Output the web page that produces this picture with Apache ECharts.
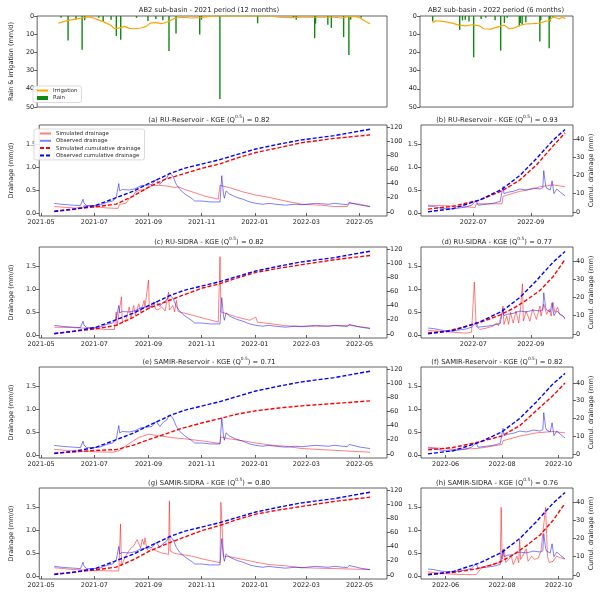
<!DOCTYPE html>
<html>
<head>
<meta charset="utf-8">
<script src="https://cdn.jsdelivr.net/npm/echarts@6/dist/echarts.min.js"></script>
<title>AB2 drainage</title>
<style>html,body{margin:0;padding:0;background:#fff;}</style>
</head>
<body>
<div id="main" style="width:600px;height:595px;"></div>
<script type="text/javascript">
// ---- values (date, value) ----

// rain (mm/d) and irrigation (mm/d)
var rainL = [['2021-05-26',1],['2021-06-03',13.5],['2021-06-12',2],['2021-06-19',18.6],['2021-06-22',2.4],['2021-07-08',1],['2021-07-13',3],['2021-07-22',2],['2021-07-28',10.9],['2021-08-02',13.1],['2021-08-20',1],['2021-09-02',2.8],['2021-09-11',1.7],['2021-09-19',2.4],['2021-09-26',19.2],['2021-10-04',9.6],['2021-10-31',10.1],['2021-11-02',2],['2021-11-23',45.6],['2022-01-05',4],['2022-02-15',1],['2022-02-18',2],['2022-03-11',12.2],['2022-03-12',4.2],['2022-03-26',4.8],['2022-03-30',6.5],['2022-04-13',11.6],['2022-04-19',21.4],['2022-04-21',2],['2022-05-03',1]];
var irrL = [['2021-05-23',3.9],['2021-05-29',3.1],['2021-06-04',2.4],['2021-06-11',1.7],['2021-06-19',1.1],['2021-06-26',0.5],['2021-07-02',1.1],['2021-07-07',2],['2021-07-15',3.5],['2021-07-22',5.2],['2021-07-26',7],['2021-08-01',6.5],['2021-08-06',5.7],['2021-08-12',6.8],['2021-08-17',7],['2021-08-25',6.6],['2021-08-31',5.7],['2021-09-05',3.9],['2021-09-11',3.5],['2021-09-16',4.2],['2021-09-20',3.9],['2021-09-24',3.3],['2021-09-28',2.4],['2021-10-03',1.1],['2021-10-13',0.7],['2021-10-20',1.1],['2021-10-31',0.9],['2021-11-11',0.2],['2021-11-20',0],['2022-01-20',0],['2022-01-29',0.7],['2022-02-13',0.9],['2022-02-24',0.7],['2022-04-02',0.7],['2022-04-10',1.1],['2022-04-17',0.5],['2022-04-25',0.2],['2022-05-02',1.1],['2022-05-08',3],['2022-05-13',4.2]];
var rainR = [['2022-05-19',3],['2022-06-17',7.6],['2022-06-20',2.4],['2022-06-23',2],['2022-06-27',3],['2022-07-02',22.7],['2022-07-10',1.7],['2022-07-15',1],['2022-07-25',2.4],['2022-07-31',19],['2022-08-04',3.9],['2022-08-07',1],['2022-08-20',5.7],['2022-08-21',3.9],['2022-08-23',4.8],['2022-08-27',3.5],['2022-09-11',14],['2022-09-12',2.4],['2022-09-21',17.7],['2022-09-22',3],['2022-09-25',1]];
var irrR = [['2022-05-19',3.9],['2022-05-22',2.6],['2022-05-30',3],['2022-06-09',3.9],['2022-06-16',5],['2022-06-23',5.4],['2022-07-01',4.8],['2022-07-08',5.4],['2022-07-13',7],['2022-07-20',7.2],['2022-07-30',5.7],['2022-08-04',5],['2022-08-09',7],['2022-08-15',6.5],['2022-08-20',5.2],['2022-08-27',4.4],['2022-09-03',4.2],['2022-09-11',3.9],['2022-09-16',3],['2022-09-21',2.6],['2022-09-25',0.5],['2022-09-29',1.1],['2022-10-02',1.5],['2022-10-06',0.5],['2022-10-08',1.7]];

// observed drainage (mm/d) and observed cumulative drainage (mm)
var obsL = [['2021-05-16',0.21],['2021-05-24',0.19],['2021-05-31',0.18],['2021-06-07',0.17],['2021-06-15',0.16],['2021-06-18',0.30],['2021-06-19',0.22],['2021-06-22',0.16],['2021-06-30',0.16],['2021-07-07',0.17],['2021-07-15',0.23],['2021-07-22',0.26],['2021-07-26',0.34],['2021-07-29',0.64],['2021-07-30',0.48],['2021-08-02',0.51],['2021-08-10',0.50],['2021-08-17',0.53],['2021-08-23',0.59],['2021-08-28',0.60],['2021-09-05',0.62],['2021-09-10',0.73],['2021-09-14',0.62],['2021-09-18',0.71],['2021-09-22',0.76],['2021-09-25',0.87],['2021-09-29',0.80],['2021-10-03',0.62],['2021-10-07',0.51],['2021-10-13',0.41],['2021-10-21',0.31],['2021-10-24',0.26],['2021-11-01',0.26],['2021-11-11',0.24],['2021-11-22',0.24],['2021-11-24',0.81],['2021-11-26',0.41],['2021-11-27',0.32],['2021-11-29',0.48],['2021-12-03',0.41],['2021-12-11',0.34],['2021-12-18',0.30],['2021-12-26',0.24],['2022-01-02',0.21],['2022-01-10',0.19],['2022-01-17',0.21],['2022-01-25',0.19],['2022-02-05',0.17],['2022-02-16',0.19],['2022-02-24',0.18],['2022-03-11',0.21],['2022-03-26',0.19],['2022-04-02',0.21],['2022-04-17',0.18],['2022-04-19',0.23],['2022-04-21',0.19],['2022-05-02',0.17],['2022-05-13',0.14]];
var cumObsL = [['2021-05-16',0.5],['2021-06-07',3.5],['2021-07-02',9],['2021-07-26',20],['2021-08-14',29],['2021-09-01',40],['2021-09-27',55],['2021-10-13',62],['2021-11-02',68],['2021-11-22',74],['2021-12-11',81],['2022-01-02',89],['2022-01-29',96],['2022-02-24',102],['2022-04-02',108],['2022-05-13',117]];
var obsR = [['2022-05-13',0.15],['2022-05-19',0.14],['2022-05-26',0.11],['2022-06-02',0.09],['2022-06-09',0.09],['2022-06-16',0.11],['2022-06-23',0.13],['2022-06-29',0.17],['2022-07-04',0.27],['2022-07-06',0.17],['2022-07-15',0.19],['2022-07-22',0.21],['2022-07-30',0.25],['2022-08-01',0.28],['2022-08-02',0.58],['2022-08-03',0.42],['2022-08-07',0.45],['2022-08-13',0.47],['2022-08-20',0.52],['2022-08-27',0.50],['2022-09-04',0.54],['2022-09-11',0.52],['2022-09-14',0.55],['2022-09-15',0.92],['2022-09-17',0.60],['2022-09-18',0.54],['2022-09-22',0.50],['2022-09-24',0.70],['2022-09-26',0.42],['2022-09-29',0.52],['2022-10-03',0.45],['2022-10-08',0.37]];
var cumObsR = [['2022-05-13',0],['2022-06-09',1.8],['2022-07-08',6.6],['2022-08-01',12.5],['2022-08-20',20],['2022-09-07',29.3],['2022-09-25',39.5],['2022-10-08',45.4]];

// simulated drainage (mm/d) and simulated cumulative drainage (mm), one pair per panel
var simA = [['2021-05-16',0.14],['2021-06-07',0.11],['2021-06-18',0.11],['2021-06-19',0.16],['2021-07-01',0.14],['2021-07-15',0.11],['2021-07-28',0.10],['2021-07-30',0.19],['2021-08-06',0.21],['2021-08-10',0.31],['2021-08-14',0.36],['2021-08-17',0.46],['2021-08-21',0.49],['2021-08-28',0.51],['2021-09-05',0.60],['2021-09-12',0.60],['2021-09-20',0.59],['2021-09-27',0.57],['2021-10-01',0.55],['2021-10-05',0.57],['2021-10-13',0.51],['2021-11-04',0.37],['2021-11-20',0.30],['2021-11-22',0.60],['2021-12-03',0.55],['2021-12-18',0.46],['2022-01-02',0.39],['2022-01-17',0.34],['2022-02-05',0.26],['2022-02-24',0.19],['2022-03-18',0.17],['2022-04-02',0.14],['2022-04-17',0.14],['2022-04-19',0.21],['2022-05-02',0.19],['2022-05-13',0.14]];
var cumSimA = [['2021-05-16',1],['2021-06-07',4],['2021-07-02',7],['2021-07-26',11],['2021-08-14',22],['2021-09-01',35],['2021-09-20',46],['2021-10-09',53],['2021-11-02',62],['2021-11-22',68],['2021-12-11',76],['2022-01-02',84],['2022-01-29',91],['2022-02-24',98],['2022-04-02',104],['2022-05-13',109]];
var simB = [['2022-05-13',0.17],['2022-06-09',0.15],['2022-07-03',0.12],['2022-07-04',0.20],['2022-08-01',0.20],['2022-08-02',0.36],['2022-08-13',0.43],['2022-08-20',0.47],['2022-09-03',0.52],['2022-09-11',0.57],['2022-09-25',0.61],['2022-10-08',0.57]];
var cumSimB = [['2022-05-13',1.5],['2022-06-09',3.1],['2022-07-08',6.5],['2022-08-01',11.6],['2022-08-20',17.5],['2022-09-07',25.8],['2022-09-25',36.3],['2022-10-08',43.6]];
var simC = [['2021-05-16',0.17],['2021-06-07',0.16],['2021-06-30',0.14],['2021-07-15',0.12],['2021-07-24',0.12],['2021-07-26',0.50],['2021-07-27',0.20],['2021-08-01',0.83],['2021-08-02',0.28],['2021-08-06',0.32],['2021-08-10',0.61],['2021-08-12',0.36],['2021-08-15',0.64],['2021-08-17',0.43],['2021-08-21',0.68],['2021-08-23',0.50],['2021-08-27',0.75],['2021-08-28',0.61],['2021-09-01',1.19],['2021-09-02',0.57],['2021-09-07',0.72],['2021-09-09',0.57],['2021-09-12',0.54],['2021-09-16',0.61],['2021-09-20',0.52],['2021-09-24',0.93],['2021-09-25',0.54],['2021-09-29',0.64],['2021-10-01',0.50],['2021-10-03',0.75],['2021-10-05',0.51],['2021-10-09',0.49],['2021-10-21',0.43],['2021-11-04',0.36],['2021-11-20',0.28],['2021-11-22',1.70],['2021-11-23',0.50],['2021-11-30',0.46],['2021-12-11',0.39],['2021-12-26',0.32],['2022-01-02',0.39],['2022-01-04',0.28],['2022-01-17',0.25],['2022-02-05',0.20],['2022-02-24',0.19],['2022-03-18',0.19],['2022-04-19',0.21],['2022-04-21',0.17],['2022-05-13',0.15]];
var cumSimC = [['2021-05-16',0],['2021-06-07',3.5],['2021-07-02',7],['2021-07-26',12],['2021-08-14',23],['2021-09-01',36],['2021-09-20',45],['2021-10-09',54],['2021-11-02',65],['2021-11-22',71],['2021-12-11',79],['2022-01-02',87],['2022-01-29',93],['2022-02-24',98],['2022-04-02',105],['2022-05-13',111]];
var simD = [['2022-05-13',0.10],['2022-05-26',0.08],['2022-06-09',0.06],['2022-06-23',0.04],['2022-06-29',0.06],['2022-07-02',1.15],['2022-07-04',0.19],['2022-07-08',0.12],['2022-07-15',0.15],['2022-07-22',0.19],['2022-07-26',0.26],['2022-07-28',0.20],['2022-07-30',0.34],['2022-08-01',0.49],['2022-08-02',0.63],['2022-08-03',0.23],['2022-08-06',0.41],['2022-08-08',0.23],['2022-08-10',0.49],['2022-08-13',0.26],['2022-08-16',0.52],['2022-08-19',0.26],['2022-08-21',0.60],['2022-08-23',1.11],['2022-08-24',0.30],['2022-08-27',0.52],['2022-08-31',0.30],['2022-09-03',0.56],['2022-09-07',0.34],['2022-09-11',0.63],['2022-09-12',0.41],['2022-09-15',0.67],['2022-09-18',0.45],['2022-09-21',0.56],['2022-09-23',0.41],['2022-09-25',0.71],['2022-09-27',0.49],['2022-09-30',0.60],['2022-10-02',0.45],['2022-10-06',0.41],['2022-10-08',0.34]];
var cumSimD = [['2022-05-13',0.5],['2022-06-02',1.5],['2022-06-23',4],['2022-07-15',7.5],['2022-07-30',10.5],['2022-08-13',14],['2022-08-27',18.5],['2022-09-11',24],['2022-09-25',31.5],['2022-10-08',41]];
var simE = [['2021-05-16',0.12],['2021-06-07',0.09],['2021-06-30',0.07],['2021-07-22',0.06],['2021-07-30',0.10],['2021-08-06',0.20],['2021-08-14',0.30],['2021-08-21',0.38],['2021-09-01',0.45],['2021-09-12',0.42],['2021-09-27',0.38],['2021-10-13',0.35],['2021-11-04',0.30],['2021-11-22',0.25],['2021-11-23',0.39],['2021-12-03',0.35],['2021-12-18',0.31],['2022-01-02',0.26],['2022-01-17',0.22],['2022-02-05',0.19],['2022-02-24',0.14],['2022-05-13',0.06]];
var cumSimE = [['2021-05-16',1],['2021-07-02',4.8],['2021-07-26',6],['2021-08-14',12],['2021-09-01',20],['2021-09-20',28],['2021-10-09',36],['2021-11-02',44],['2021-11-22',50],['2021-12-11',56],['2022-01-02',61],['2022-01-29',65],['2022-02-24',68],['2022-05-13',75]];
var simF = [['2022-05-13',0.17],['2022-06-09',0.12],['2022-07-04',0.14],['2022-07-15',0.17],['2022-08-01',0.23],['2022-08-02',0.31],['2022-08-20',0.41],['2022-09-07',0.48],['2022-09-25',0.51],['2022-10-08',0.48]];
var cumSimF = [['2022-05-13',2.3],['2022-06-09',3.6],['2022-07-08',6.8],['2022-08-01',10.2],['2022-08-20',15.9],['2022-09-07',24.4],['2022-09-25',32.9],['2022-10-08',40]];
var simG = [['2021-05-16',0.18],['2021-06-07',0.14],['2021-06-30',0.12],['2021-07-22',0.11],['2021-07-29',0.11],['2021-07-31',1.13],['2021-08-01',0.22],['2021-08-04',0.36],['2021-08-08',0.50],['2021-08-12',0.61],['2021-08-15',0.65],['2021-08-19',0.79],['2021-08-23',0.61],['2021-08-25',0.80],['2021-08-27',0.68],['2021-08-28',0.83],['2021-08-30',0.61],['2021-09-01',0.54],['2021-09-05',0.59],['2021-09-09',0.55],['2021-09-16',0.50],['2021-09-24',0.47],['2021-09-25',1.63],['2021-09-26',0.54],['2021-10-01',0.49],['2021-10-21',0.43],['2021-11-04',0.36],['2021-11-22',0.29],['2021-11-23',1.60],['2021-11-26',0.43],['2021-12-03',0.42],['2021-12-18',0.36],['2022-01-02',0.30],['2022-01-17',0.25],['2022-02-05',0.22],['2022-02-24',0.18],['2022-05-13',0.14]];
var cumSimG = [['2021-05-16',1],['2021-07-02',7],['2021-07-26',11],['2021-08-14',21],['2021-09-01',33],['2021-09-20',43],['2021-10-09',52],['2021-11-02',63],['2021-11-22',70],['2021-12-11',78],['2022-01-02',86],['2022-01-29',92],['2022-02-24',97],['2022-04-02',104],['2022-05-13',110]];
var simH = [['2022-05-13',0.09],['2022-05-26',0.06],['2022-06-09',0.04],['2022-06-23',0.03],['2022-07-04',0.03],['2022-07-10',0.18],['2022-07-15',0.22],['2022-07-22',0.25],['2022-07-30',0.29],['2022-07-31',1.49],['2022-08-01',0.36],['2022-08-03',0.59],['2022-08-05',0.29],['2022-08-08',0.36],['2022-08-11',0.43],['2022-08-13',0.25],['2022-08-17',0.43],['2022-08-19',0.29],['2022-08-20',0.79],['2022-08-21',0.36],['2022-08-23',0.43],['2022-08-27',0.59],['2022-08-29',0.32],['2022-09-02',0.43],['2022-09-05',0.36],['2022-09-09',0.39],['2022-09-12',0.54],['2022-09-17',1.49],['2022-09-19',0.43],['2022-09-21',0.29],['2022-09-25',0.32],['2022-09-29',0.43],['2022-10-02',0.40],['2022-10-08',0.37]];
var cumSimH = [['2022-05-13',0.3],['2022-05-30',0.8],['2022-06-16',1.8],['2022-07-04',3.3],['2022-07-19',5.2],['2022-07-30',7.2],['2022-08-13',11],['2022-08-27',16],['2022-09-11',22],['2022-09-25',30],['2022-10-08',39.5]];

// tick labels
var leftTicks = ['2021-05','2021-07','2021-09','2021-11','2022-01','2022-03','2022-05'];
var rightTicks1 = ['2022-07','2022-09'];
var rightTicks2 = ['2022-06','2022-08','2022-10'];
var rainTicks = [0, 10, 20, 30, 40, 50];
var drainTicks = [0, 0.5, 1.0, 1.5];
var cumTicksL = [0, 20, 40, 60, 80, 100, 120];
var cumTicksR = [0, 10, 20, 30, 40];

var panels = [
  {lab: '(a) RU-Reservoir', kge: '0.82', sim: simA, cum: cumSimA},
  {lab: '(b) RU-Reservoir', kge: '0.93', sim: simB, cum: cumSimB},
  {lab: '(c) RU-SIDRA', kge: '0.82', sim: simC, cum: cumSimC},
  {lab: '(d) RU-SIDRA', kge: '0.77', sim: simD, cum: cumSimD},
  {lab: '(e) SAMIR-Reservoir', kge: '0.71', sim: simE, cum: cumSimE},
  {lab: '(f) SAMIR-Reservoir', kge: '0.82', sim: simF, cum: cumSimF},
  {lab: '(g) SAMIR-SIDRA', kge: '0.80', sim: simG, cum: cumSimG},
  {lab: '(h) SAMIR-SIDRA', kge: '0.76', sim: simH, cum: cumSimH}
];

// ---- layout ----
var FONT = 'DejaVu Sans';
var TXT = '#262626';
var SPINE = '#3a3a3a';
var COLS = [{left: 31, width: 356}, {left: 421, width: 152}];
var ROW_TOP = [125, 247, 367, 488];
var ROW_H = 91;
var L_MIN = '2021-04-28 19:00', L_MAX = '2022-06-01 10:00';
var R_MIN = '2022-05-05 10:00', R_MAX = '2022-10-16 14:00';

// date string -> local timestamp
function ts(s) {
  var p = s.split(/[- :]/);
  return new Date(+p[0], +p[1] - 1, p[2] ? +p[2] : 1, p[3] ? +p[3] : 0, p[4] ? +p[4] : 0).getTime();
}
function pts(list) {
  return list.map(function (d) { return [ts(d[0]), d[1]]; });
}
function fmtMonth(v) {
  var d = new Date(v);
  var m = d.getMonth() + 1;
  return d.getFullYear() + '-' + (m < 10 ? '0' : '') + m;
}
function tickLbl(extra) {
  var o = {fontSize: 6.5, color: TXT, fontFamily: FONT, margin: 3};
  for (var k in extra) o[k] = extra[k];
  return o;
}
function ticks(vals) {
  return {show: true, length: 3, lineStyle: {color: SPINE, width: 0.8}, customValues: vals};
}
var nameStyle = {fontSize: 6.5, color: TXT, fontFamily: FONT};

var grids = [], xAxes = [], yAxes = [], series = [], texts = [];

function addGrid(left, top, width, height) {
  grids.push({left: left, top: top, width: width, height: height, show: true,
    borderColor: SPINE, borderWidth: 0.8, backgroundColor: '#fff'});
  return grids.length - 1;
}

// rain & irrigation panels
[[rainL, irrL, 0], [rainR, irrR, 1]].forEach(function (p) {
  var c = p[2];
  var g = addGrid(c === 0 ? 31 : 420, 16, c === 0 ? 356 : 153, 91);
  xAxes.push({type: 'value', gridIndex: g, min: ts(c === 0 ? L_MIN : R_MIN), max: ts(c === 0 ? L_MAX : R_MAX),
    axisLine: {show: false}, axisTick: {show: false}, axisLabel: {show: false}, splitLine: {show: false}});
  yAxes.push({type: 'value', gridIndex: g, inverse: true, min: 0, max: 50, position: 'left',
    axisLine: {show: false}, splitLine: {show: false},
    axisTick: ticks(rainTicks), axisLabel: tickLbl({customValues: rainTicks}),
    name: c === 0 ? 'Rain & irrigation (mm/d)' : '', nameLocation: 'middle', nameRotate: 90, nameGap: 16,
    nameTextStyle: nameStyle});
  series.push({name: 'Rain', type: 'bar', xAxisIndex: g, yAxisIndex: g, data: pts(p[0]),
    barWidth: 1.4, itemStyle: {color: '#118811'}});
  series.push({name: 'Irrigation', type: 'line', xAxisIndex: g, yAxisIndex: g, data: pts(p[1]),
    symbol: 'none', lineStyle: {color: '#ffa500', width: 1.2}, itemStyle: {color: '#ffa500'}});
  texts.push({x: c === 0 ? 209 : 496, y: 10, t: c === 0 ? 'AB2 sub-basin - 2021 period (12 months)' : 'AB2 sub-basin - 2022 period (6 months)', rich: false});
});

// drainage panels
panels.forEach(function (p, i) {
  var col = i % 2, row = Math.floor(i / 2);
  var L = col === 0;
  var g = addGrid(COLS[col].left, ROW_TOP[row], COLS[col].width, ROW_H);
  var xt = (L ? leftTicks : (row < 2 ? rightTicks1 : rightTicks2)).map(function (s) { return ts(s); });
  xAxes.push({type: 'value', gridIndex: g, min: ts(L ? L_MIN : R_MIN), max: ts(L ? L_MAX : R_MAX),
    axisLine: {show: false}, splitLine: {show: false},
    axisTick: ticks(xt), axisLabel: tickLbl({customValues: xt, formatter: fmtMonth})});
  var yl = yAxes.length;
  yAxes.push({type: 'value', gridIndex: g, min: -0.065, max: 1.91, position: 'left',
    axisLine: {show: false}, splitLine: {show: false},
    axisTick: ticks(drainTicks),
    axisLabel: tickLbl({customValues: drainTicks, formatter: function (v) { return v.toFixed(1); }}),
    name: L ? 'Drainage (mm/d)' : '', nameLocation: 'middle', nameRotate: 90, nameGap: 17,
    nameTextStyle: nameStyle});
  var ct = L ? cumTicksL : cumTicksR;
  yAxes.push({type: 'value', gridIndex: g, min: L ? -5.9 : -2.3, max: L ? 123 : (i === 5 ? 49 : 47.9), position: 'right',
    axisLine: {show: false}, splitLine: {show: false},
    axisTick: ticks(ct), axisLabel: tickLbl({customValues: ct}),
    name: L ? '' : 'Cumul. drainage (mm)', nameLocation: 'middle', nameRotate: 90, nameGap: 15,
    nameTextStyle: nameStyle});
  var base = {type: 'line', xAxisIndex: g, symbol: 'none', showSymbol: false};
  series.push(Object.assign({}, base, {name: 'Simulated drainage', yAxisIndex: yl, data: pts(p.sim),
    lineStyle: {color: 'rgba(255,0,0,0.5)', width: 1}, itemStyle: {color: 'rgba(255,0,0,0.5)'}}));
  series.push(Object.assign({}, base, {name: 'Observed drainage', yAxisIndex: yl, data: pts(L ? obsL : obsR),
    lineStyle: {color: 'rgba(0,0,255,0.5)', width: 1}, itemStyle: {color: 'rgba(0,0,255,0.5)'}}));
  series.push(Object.assign({}, base, {name: 'Simulated cumulative drainage', yAxisIndex: yl + 1, data: pts(p.cum),
    lineStyle: {color: '#ff0000', width: 1.4, type: [4, 2]}, itemStyle: {color: '#ff0000'}}));
  series.push(Object.assign({}, base, {name: 'Observed cumulative drainage', yAxisIndex: yl + 1, data: pts(L ? cumObsL : cumObsR),
    lineStyle: {color: '#0000ff', width: 1.4, type: [4, 2]}, itemStyle: {color: '#0000ff'}}));
  texts.push({x: COLS[col].left + COLS[col].width / 2, y: ROW_TOP[row] - 5.5,
    t: '{n|' + p.lab + ' - KGE (Q}{s|0.5}{n|) = ' + p.kge + '}', rich: true});
});

var graphics = texts.map(function (t) {
  var st = {text: t.t, x: 0, y: 0, textAlign: 'center', textVerticalAlign: 'middle',
    fill: TXT, fontSize: 6.8, fontFamily: FONT};
  if (t.rich) {
    st.rich = {
      n: {fontSize: 6.8, fontFamily: FONT, fill: TXT, lineHeight: 9, verticalAlign: 'bottom'},
      s: {fontSize: 4.4, fontFamily: FONT, fill: TXT, lineHeight: 5, verticalAlign: 'top'}
    };
  }
  return {type: 'text', x: t.x, y: t.y, style: st, silent: true};
});

var legendText = {fontSize: 5.4, color: TXT, fontFamily: FONT};

var myChart = echarts.init(document.getElementById('main'));
var option = {
  backgroundColor: '#fff',
  animation: false,
  grid: grids,
  xAxis: xAxes,
  yAxis: yAxes,
  series: series,
  legend: [{
    data: [{name: 'Irrigation', itemStyle: {opacity: 0}}, {name: 'Rain', icon: 'rect'}],
    orient: 'vertical', left: 33, top: 86, itemWidth: 11, itemHeight: 4, itemGap: 2.5,
    padding: [2, 4, 2, 3], borderColor: '#d0d0d0', borderWidth: 0.8, borderRadius: 2,
    backgroundColor: 'rgba(255,255,255,0.85)', textStyle: legendText, selectedMode: false
  }, {
    data: ['Simulated drainage', 'Observed drainage', 'Simulated cumulative drainage', 'Observed cumulative drainage'],
    orient: 'vertical', left: 34, top: 129, itemWidth: 11, itemHeight: 5, itemGap: 2.3,
    itemStyle: {opacity: 0},
    padding: [2, 4, 2, 5], borderColor: '#d0d0d0', borderWidth: 0.8, borderRadius: 2,
    backgroundColor: 'rgba(255,255,255,0.85)', textStyle: legendText, selectedMode: false
  }],
  graphic: {elements: graphics}
};
myChart.setOption(option);
</script>
</body>
</html>
